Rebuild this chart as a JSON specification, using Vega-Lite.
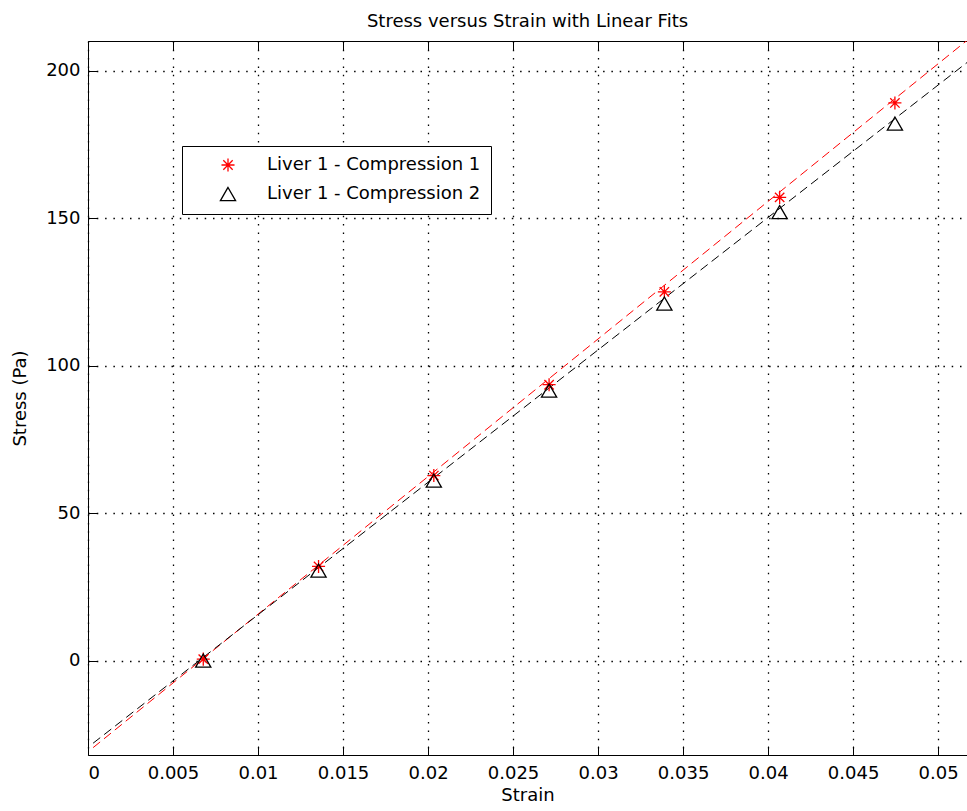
{
  "$schema": "https://vega.github.io/schema/vega-lite/v6.json",
  "width": 879,
  "height": 714,
  "autosize": "none",
  "padding": {"left": 88, "top": 41, "right": 0, "bottom": 56},
  "background": "white",
  "title": {
    "text": "Stress versus Strain with Linear Fits",
    "font": "DejaVu Sans",
    "fontSize": 18,
    "fontWeight": "normal",
    "color": "black",
    "anchor": "middle",
    "baseline": "alphabetic",
    "offset": -4
  },
  "datasets": {
    "points": [
      {"strain": 0.00678, "stress": 0.5, "series": "Liver 1 - Compression 1"},
      {"strain": 0.01356, "stress": 31.9, "series": "Liver 1 - Compression 1"},
      {"strain": 0.02034, "stress": 62.7, "series": "Liver 1 - Compression 1"},
      {"strain": 0.02712, "stress": 93.5, "series": "Liver 1 - Compression 1"},
      {"strain": 0.0339, "stress": 125, "series": "Liver 1 - Compression 1"},
      {"strain": 0.04068, "stress": 157, "series": "Liver 1 - Compression 1"},
      {"strain": 0.04746, "stress": 189, "series": "Liver 1 - Compression 1"},
      {"strain": 0.00678, "stress": 0, "series": "Liver 1 - Compression 2"},
      {"strain": 0.01356, "stress": 30.5, "series": "Liver 1 - Compression 2"},
      {"strain": 0.02034, "stress": 61, "series": "Liver 1 - Compression 2"},
      {"strain": 0.02712, "stress": 91.5, "series": "Liver 1 - Compression 2"},
      {"strain": 0.0339, "stress": 121, "series": "Liver 1 - Compression 2"},
      {"strain": 0.04068, "stress": 152, "series": "Liver 1 - Compression 2"},
      {"strain": 0.04746, "stress": 182, "series": "Liver 1 - Compression 2"}
    ],
    "fits": [
      {"strain": 0.0003, "stress": -29.5, "series": "fit1"},
      {"strain": 0.0517, "stress": 210.2, "series": "fit1"},
      {"strain": 0.0003, "stress": -28, "series": "fit2"},
      {"strain": 0.0517, "stress": 202.7, "series": "fit2"}
    ]
  },
  "layer": [
    {
      "data": {"name": "fits"},
      "transform": [{"filter": "datum.series == 'fit1'"}],
      "mark": {"type": "line", "color": "#ff0000", "strokeWidth": 1, "strokeDash": [9, 5], "clip": true},
      "encoding": {
        "x": {
          "field": "strain", "type": "quantitative",
          "scale": {"domain": [0, 0.0517], "nice": false, "zero": false},
          "axis": {
            "orient": "bottom", "title": "Strain",
            "values": [0, 0.005, 0.01, 0.015, 0.02, 0.025, 0.03, 0.035, 0.04, 0.045, 0.05],
            "format": "~g", "grid": true, "labelPadding": 18, "titlePadding": 4
          }
        },
        "y": {
          "field": "stress", "type": "quantitative",
          "scale": {"domain": [-32, 210], "nice": false, "zero": false},
          "axis": {
            "orient": "left", "title": "Stress (Pa)",
            "values": [0, 50, 100, 150, 200],
            "grid": true, "labelPadding": 17, "titlePadding": 16
          }
        }
      }
    },
    {
      "data": {"name": "fits"},
      "transform": [{"filter": "datum.series == 'fit2'"}],
      "mark": {"type": "line", "color": "#000000", "strokeWidth": 1, "strokeDash": [9, 5], "clip": true},
      "encoding": {
        "x": {"field": "strain", "type": "quantitative", "axis": null},
        "y": {"field": "stress", "type": "quantitative", "axis": null}
      }
    },
    {
      "data": {"name": "points"},
      "mark": {"type": "point", "filled": false, "strokeWidth": 1.3, "opacity": 1},
      "encoding": {
        "x": {
          "field": "strain", "type": "quantitative",
          "axis": {
            "orient": "top", "title": null, "labels": false, "grid": false,
            "values": [0, 0.005, 0.01, 0.015, 0.02, 0.025, 0.03, 0.035, 0.04, 0.045, 0.05]
          }
        },
        "y": {"field": "stress", "type": "quantitative", "axis": null},
        "color": {
          "field": "series", "type": "nominal",
          "scale": {"domain": ["Liver 1 - Compression 1", "Liver 1 - Compression 2"], "range": ["#ff0000", "#000000"]},
          "legend": {
            "title": null, "orient": "none", "legendX": 94, "legendY": 105,
            "direction": "vertical", "strokeColor": "black", "fillColor": "white",
            "padding": 10, "symbolOffset": 27, "labelOffset": 30, "rowPadding": 9,
            "labelFont": "DejaVu Sans", "labelFontSize": 18, "labelColor": "black", "labelLimit": 500,
            "symbolStrokeWidth": 1.3, "symbolFillColor": "transparent", "cornerRadius": 0
          }
        },
        "shape": {
          "field": "series", "type": "nominal",
          "scale": {"domain": ["Liver 1 - Compression 1", "Liver 1 - Compression 2"],
            "range": ["M-1,0L1,0M0,-1L0,1M-0.72,-0.72L0.72,0.72M-0.72,0.72L0.72,-0.72", "triangle-up"]}
        },
        "size": {
          "field": "series", "type": "nominal",
          "scale": {"domain": ["Liver 1 - Compression 1", "Liver 1 - Compression 2"], "range": [170, 230]}
        }
      }
    }
  ],
  "resolve": {"axis": {"x": "independent", "y": "independent"}},
  "config": {
    "view": {"stroke": null},
    "axis": {
      "domainColor": "black", "domainWidth": 1, "tickColor": "black", "tickWidth": 1, "tickSize": -9,
      "labelFont": "DejaVu Sans", "labelFontSize": 18, "labelColor": "black",
      "titleFont": "DejaVu Sans", "titleFontSize": 18, "titleFontWeight": "normal", "titleColor": "black",
      "gridColor": "black", "gridOpacity": 1, "gridWidth": 1.3, "gridDash": [1.5, 6.8]
    }
  }
}
